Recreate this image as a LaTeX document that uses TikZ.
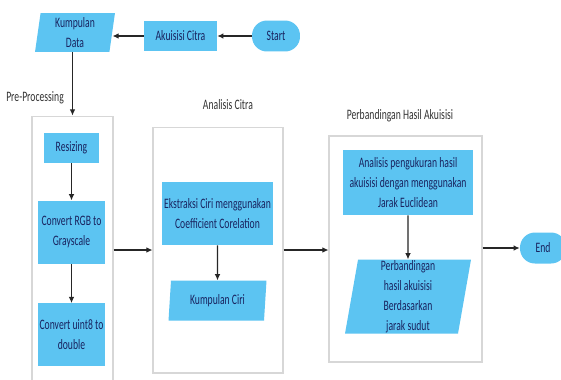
\documentclass[tikz,border=0pt]{standalone}
\usepackage{fontspec}
\setmainfont{Carlito}[FakeStretch=0.67]
\usetikzlibrary{positioning, arrows.meta, shapes.geometric}
\definecolor{boxblue}{RGB}{92,196,242}
\definecolor{boxtext}{RGB}{25,35,95}
\definecolor{lbltext}{RGB}{50,50,50}
\definecolor{panelgray}{RGB}{215,215,215}

\begin{document}
\begin{tikzpicture}[x=0.02cm, y=-0.02cm,
  every node/.style={font=\fontsize{8.2}{11.3}\selectfont},
  arr/.style={-{Latex[length=3.5pt, width=3.2pt]}, line width=0.6pt, black!85},
  proc/.style={rectangle, fill=boxblue, text=boxtext, align=center, inner sep=1pt},
  iodata/.style={trapezium, trapezium left angle=80, trapezium right angle=100,
                 trapezium stretches body, fill=boxblue, text=boxtext, align=center,
                 inner sep=0.5pt},
  term/.style={rectangle, rounded corners=8.5pt, fill=boxblue, text=boxtext,
               minimum height=0.62cm},
  panel/.style={draw=panelgray, line width=0.6pt, fill=white, inner sep=0pt},
  lbl/.style={text=lbltext}
]
\useasboundingbox (0,0) rectangle (561,379);

% ---- Top row: start, acquisition, data ----
\node[term, minimum width=0.96cm] (start) at (276,36) {Start};
\node[proc, minimum width=1.46cm, minimum height=0.62cm] (akuisisi) at (180.5,36) {Akuisisi Citra};
\node[iodata, minimum width=1.6cm, minimum height=0.78cm] (kdata) at (75,32.5) {Kumpulan\\Data};

% ---- Panels ----
\node[panel, minimum width=1.62cm, minimum height=5.32cm] (pre) at (72.5,249) {};
\node[panel, minimum width=2.6cm, minimum height=4.92cm] (ana) at (218,250) {};
\node[panel, minimum width=3.06cm, minimum height=4.52cm] (perb) at (405.5,249) {};

\node[lbl, anchor=east] (prelbl) at (70,98) {Pre-Processing};
\node[lbl] (analbl) at (228,105) {Analisis Citra};
\node[lbl] (perblbl) at (400,116) {Perbandingan Hasil Akuisisi};

% ---- Pre-processing steps ----
\node[proc, minimum width=1.1cm, minimum height=0.6cm] (resize) at (71.5,148) {Resizing};
\node[proc, minimum width=1.36cm, minimum height=1.26cm, below=0.74cm of resize] (rgb)
  {Convert RGB to\\Grayscale};
\node[proc, minimum width=1.36cm, minimum height=1.26cm, below=0.78cm of rgb] (uint)
  {Convert uint8 to\\double};

% ---- Analisis citra ----
\node[proc, minimum width=2.22cm, minimum height=1.26cm] (ekstr) at (217.5,213.5)
  {Ekstraksi Ciri menggunakan\\Coefficient Corelation};
\node[iodata, minimum width=1.96cm, minimum height=0.8cm, below=0.7cm of ekstr] (kciri)
  {Kumpulan Ciri};

% ---- Perbandingan ----
\node[proc, minimum width=2.6cm, minimum height=1.3cm] (ukur) at (408,182.5)
  {Analisis pengukuran hasil\\akuisisi dengan menggunakan\\Jarak Euclidean};
\node[iodata, minimum width=2.52cm, minimum height=1.48cm, below=0.88cm of ukur] (banding)
  {Perbandingan\\hasil akuisisi\\Berdasarkan\\jarak sudut};

\node[term, minimum width=0.92cm] (endn) at (543,248) {End};

% ---- Arrows ----
\draw[arr] (start) -- (akuisisi);
\draw[arr] (akuisisi.west) -- (akuisisi.west -| kdata.east);
\draw[arr] (pre.north |- kdata.south) -- (pre.north);
\draw[arr] (resize) -- (rgb);
\draw[arr] (rgb) -- (uint);
\draw[arr] (pre.east |- ana.west) -- (ana.west);
\draw[arr] (ekstr) -- (kciri);
\draw[arr] (ana.east) -- (ana.east -| perb.west);
\draw[arr] (ukur) -- (banding);
\draw[arr] (perb.east |- endn.west) -- (endn.west);

\end{tikzpicture}
\end{document}
